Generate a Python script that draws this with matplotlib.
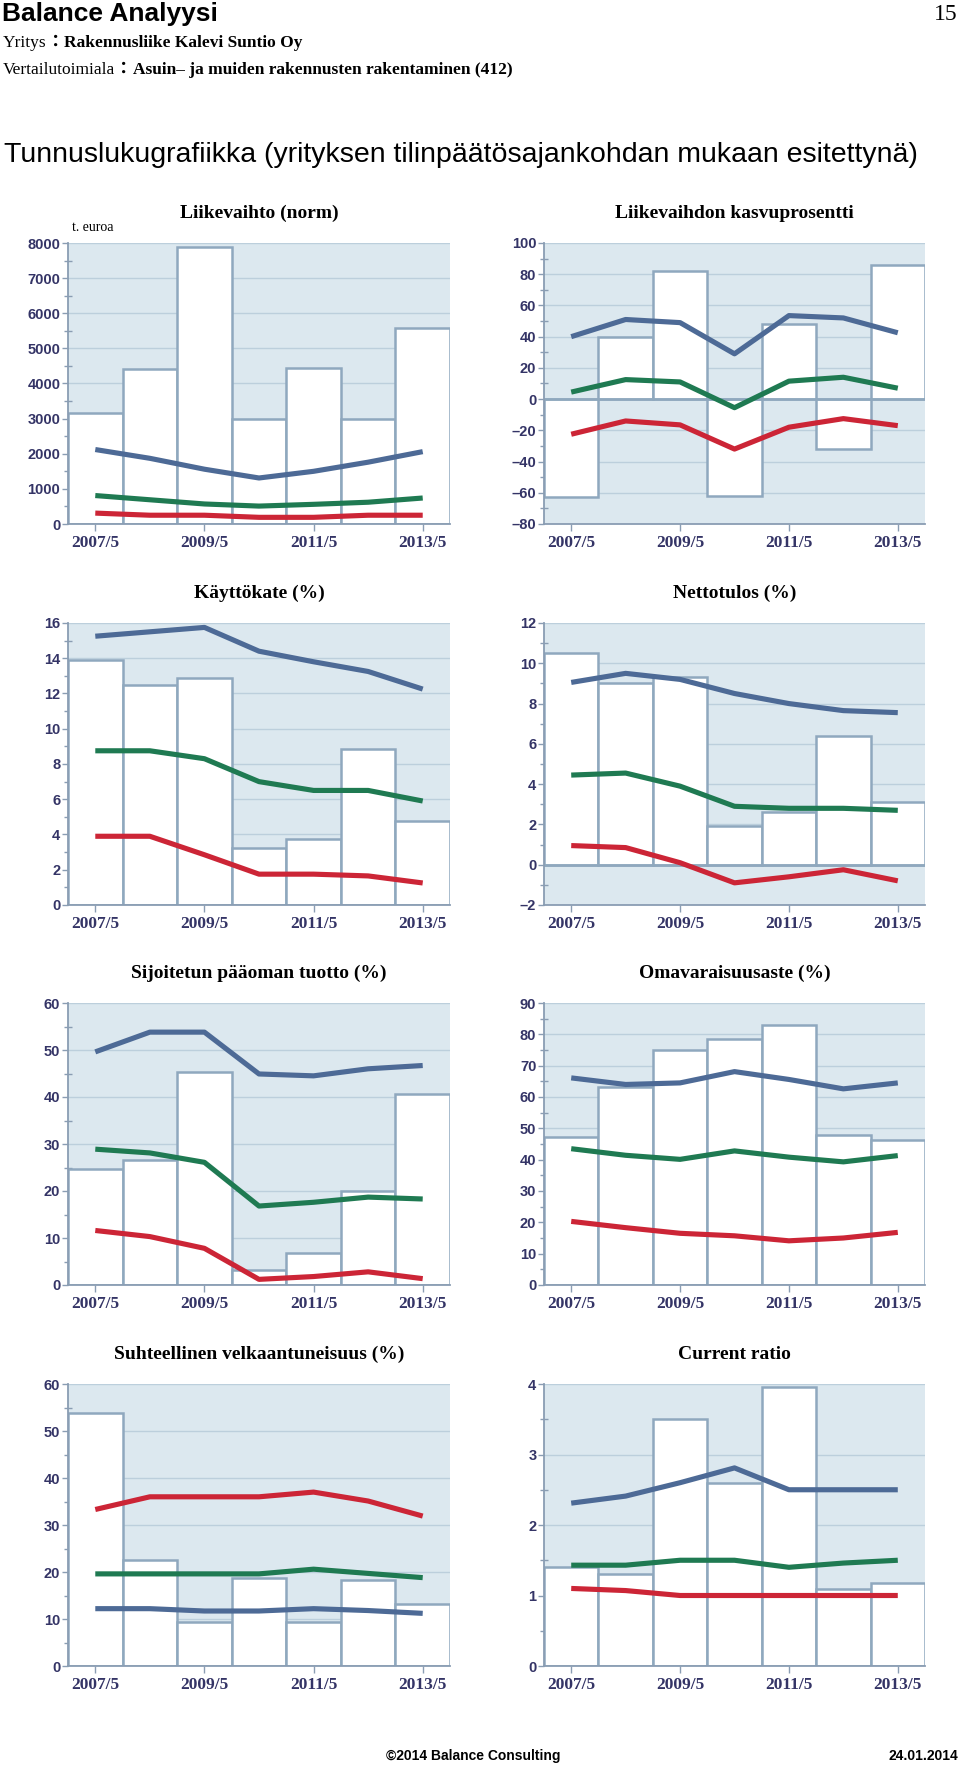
import numpy as np
import matplotlib.pyplot as plt
from matplotlib.ticker import MultipleLocator, FuncFormatter

# Kuvan koko pikseleinä
W, H = 960, 1767

# Tilikaudet
PERIODS = ['2007/5', '2008/5', '2009/5', '2010/5', '2011/5', '2012/5', '2013/5']
TICK_POS = [0, 2, 4, 6]
TICK_LABELS = ['2007/5', '2009/5', '2011/5', '2013/5']

# Liikevaihto (norm), t. euroa
LV_BARS = [3150, 4400, 7880, 3000, 4450, 3000, 5570]
LV_BLUE = [2120, 1870, 1560, 1310, 1500, 1760, 2060]
LV_GREEN = [810, 690, 570, 510, 560, 620, 740]
LV_RED = [310, 250, 250, 190, 190, 250, 250]

# Liikevaihdon kasvuprosentti
KP_BARS = [-63, 40, 82, -62, 48, -32, 86]
KP_BLUE = [40, 51, 49, 29, 53.5, 52, 42.5]
KP_GREEN = [4.5, 12.5, 11, -5.5, 11.5, 14, 7]
KP_RED = [-22.5, -14, -16.5, -32, -18, -12.5, -17]

# Käyttökate (%)
KK_BARS = [13.9, 12.5, 12.9, 3.25, 3.75, 8.85, 4.75]
KK_BLUE = [15.25, 15.5, 15.75, 14.4, 13.8, 13.25, 12.25]
KK_GREEN = [8.75, 8.75, 8.3, 7.0, 6.5, 6.5, 5.9]
KK_RED = [3.9, 3.9, 2.85, 1.75, 1.75, 1.65, 1.25]

# Nettotulos (%)
NT_BARS = [10.5, 9.0, 9.3, 1.9, 2.6, 6.4, 3.1]
NT_BLUE = [9.05, 9.5, 9.2, 8.5, 8.0, 7.65, 7.55]
NT_GREEN = [4.45, 4.55, 3.9, 2.9, 2.8, 2.8, 2.7]
NT_RED = [0.95, 0.85, 0.1, -0.9, -0.6, -0.25, -0.8]

# Sijoitetun pääoman tuotto (%)
SP_BARS = [24.7, 26.6, 45.3, 3.2, 6.9, 20.1, 40.6]
SP_BLUE = [49.6, 53.8, 53.8, 44.9, 44.5, 46.0, 46.7]
SP_GREEN = [28.9, 28.1, 26.1, 16.8, 17.6, 18.7, 18.3]
SP_RED = [11.6, 10.3, 7.8, 1.2, 1.8, 2.8, 1.35]

# Omavaraisuusaste (%)
OA_BARS = [47.1, 63.2, 75.1, 78.5, 82.9, 47.8, 46.3]
OA_BLUE = [66.1, 64.0, 64.5, 68.1, 65.6, 62.6, 64.5]
OA_GREEN = [43.5, 41.4, 40.1, 42.8, 40.8, 39.3, 41.3]
OA_RED = [20.3, 18.3, 16.5, 15.7, 14.1, 15.0, 16.8]

# Suhteellinen velkaantuneisuus (%)
SV_BARS = [53.9, 22.6, 9.3, 18.8, 9.3, 18.3, 13.1]
SV_BLUE = [12.2, 12.2, 11.7, 11.7, 12.2, 11.8, 11.2]
SV_GREEN = [19.6, 19.6, 19.6, 19.6, 20.6, 19.7, 18.8]
SV_RED = [33.3, 36.0, 36.0, 36.0, 37.0, 35.1, 31.9]

# Current ratio
CR_BARS = [1.40, 1.31, 3.50, 2.59, 3.96, 1.09, 1.18]
CR_BLUE = [2.31, 2.41, 2.6, 2.81, 2.5, 2.5, 2.5]
CR_GREEN = [1.43, 1.43, 1.5, 1.5, 1.4, 1.46, 1.5]
CR_RED = [1.1, 1.07, 1.0, 1.0, 1.0, 1.0, 1.0]

# Värit
BG = '#dce8ef'
GRID = '#bccfdc'
EDGE = '#8fa8be'
AXIS = '#8a9db3'
LABEL = '#343466'
BLUE = '#4d6a96'
GREEN = '#1f7a52'
RED = '#cc2536'

SERIF = ['Liberation Serif', 'DejaVu Serif']
SERIF_CJK = ['Liberation Serif', 'Noto Sans CJK JP']
SANS = ['Liberation Sans Narrow', 'Liberation Sans']
SANS_WIDE = ['Liberation Sans', 'DejaVu Sans']

# Kuvaajien sijainnit (pikseleinä: vasen, oikea / ylä, ala)
COLS = [(68, 450), (544, 925)]
ROWS = [(243, 524), (623, 905), (1003, 1285), (1384, 1666)]


def axes_rect(col, row):
    left, right = COLS[col]
    top, bottom = ROWS[row]
    return [left / W, 1 - bottom / H, (right - left) / W, (bottom - top) / H]


def draw_panel(ax, title, bars, blue, green, red, ylim, step):
    x = np.arange(len(PERIODS))
    ax.set_facecolor(BG)
    ax.set_xlim(-0.5, len(PERIODS) - 0.5)
    ax.set_ylim(*ylim)
    ax.yaxis.set_major_locator(MultipleLocator(step))
    ax.yaxis.set_minor_locator(MultipleLocator(step / 2))
    ax.yaxis.set_major_formatter(FuncFormatter(lambda v, p: f'{v:g}'.replace('-', '–')))
    ax.grid(axis='y', which='major', color=GRID, lw=1)
    ax.set_axisbelow(True)

    ax.bar(x, bars, width=1.0, color='white', edgecolor=EDGE, linewidth=1.8, zorder=2)
    if ylim[0] < 0:
        ax.axhline(0, color=EDGE, lw=1.8, zorder=2.5)

    for vals, c in ((blue, BLUE), (green, GREEN), (red, RED)):
        ax.plot(x, vals, color=c, lw=3.7, solid_capstyle='butt', zorder=3)

    ax.set_xticks(TICK_POS)
    ax.set_xticklabels(TICK_LABELS, fontfamily=SERIF, fontweight='bold', fontsize=12.5, color=LABEL)
    for lab in ax.get_yticklabels():
        lab.set_fontfamily(SANS_WIDE)
        lab.set_fontweight('bold')
        lab.set_fontsize(10.5)
        lab.set_color(LABEL)

    ax.tick_params(axis='x', which='major', direction='out', length=5, width=1, color=AXIS, pad=3)
    ax.tick_params(axis='y', which='major', direction='out', length=4, width=1, color=AXIS, pad=1.5)
    ax.tick_params(axis='y', which='minor', direction='inout', length=6, width=1, color=AXIS)
    for side in ('top', 'right'):
        ax.spines[side].set_visible(False)
    for side in ('left', 'bottom'):
        ax.spines[side].set_color(AXIS)
        ax.spines[side].set_linewidth(1.3)

    ax.set_title(title, fontfamily=SERIF, fontweight='bold', fontsize=14, pad=18)


fig = plt.figure(figsize=(W / 100, H / 100), dpi=100)
bg = fig.add_axes([0, 0, 1, 1])
bg.set_axis_off()


def px(x, y):
    return x / W, 1 - y / H


# Otsikkotekstit
bg.text(*px(2, 14), 'Balance Analyysi', fontfamily=SANS, fontweight='bold', fontsize=19,
        va='center', ha='left')
bg.text(*px(958, 14), '15', fontfamily=SERIF, fontsize=17, va='center', ha='right')

t1 = bg.text(*px(3, 43), 'Yritys', fontfamily=SERIF, fontsize=12.5, va='center', ha='left')
t2 = bg.annotate('：', xy=(1, 0), xycoords=t1, va='bottom', ha='left',
                 fontfamily=SERIF_CJK, fontsize=12.5, fontweight='bold')
bg.annotate('Rakennusliike Kalevi Suntio Oy', xy=(1, 0), xycoords=t2, va='bottom', ha='left',
            fontfamily=SERIF, fontsize=12.5, fontweight='bold')

t3 = bg.text(*px(3, 70), 'Vertailutoimiala', fontfamily=SERIF, fontsize=12.5, va='center', ha='left')
t4 = bg.annotate('：', xy=(1, 0), xycoords=t3, va='bottom', ha='left',
                 fontfamily=SERIF_CJK, fontsize=12.5, fontweight='bold')
bg.annotate('Asuin– ja muiden rakennusten rakentaminen (412)', xy=(1, 0), xycoords=t4,
            va='bottom', ha='left', fontfamily=SERIF, fontsize=12.5, fontweight='bold')

bg.text(*px(4, 155), 'Tunnuslukugrafiikka (yrityksen tilinpäätösajankohdan mukaan esitettynä)',
        fontfamily=SANS, fontsize=20.5, va='center', ha='left')

# Alatunniste
bg.text(*px(473, 1756), '©2014 Balance Consulting', fontfamily=SANS, fontweight='bold',
        fontsize=10, va='center', ha='center')
bg.text(*px(958, 1756), '24.01.2014', fontfamily=SANS, fontweight='bold',
        fontsize=10, va='center', ha='right')

# Kuvaajat
panels = [
    (0, 0, 'Liikevaihto (norm)', LV_BARS, LV_BLUE, LV_GREEN, LV_RED, (0, 8000), 1000),
    (1, 0, 'Liikevaihdon kasvuprosentti', KP_BARS, KP_BLUE, KP_GREEN, KP_RED, (-80, 100), 20),
    (0, 1, 'Käyttökate (%)', KK_BARS, KK_BLUE, KK_GREEN, KK_RED, (0, 16), 2),
    (1, 1, 'Nettotulos (%)', NT_BARS, NT_BLUE, NT_GREEN, NT_RED, (-2, 12), 2),
    (0, 2, 'Sijoitetun pääoman tuotto (%)', SP_BARS, SP_BLUE, SP_GREEN, SP_RED, (0, 60), 10),
    (1, 2, 'Omavaraisuusaste (%)', OA_BARS, OA_BLUE, OA_GREEN, OA_RED, (0, 90), 10),
    (0, 3, 'Suhteellinen velkaantuneisuus (%)', SV_BARS, SV_BLUE, SV_GREEN, SV_RED, (0, 60), 10),
    (1, 3, 'Current ratio', CR_BARS, CR_BLUE, CR_GREEN, CR_RED, (0, 4), 1),
]

for col, row, title, bars, blue, green, red, ylim, step in panels:
    ax = fig.add_axes(axes_rect(col, row))
    draw_panel(ax, title, bars, blue, green, red, ylim, step)
    if row == 0 and col == 0:
        ax.text(0.01, 1.055, 't. euroa', transform=ax.transAxes, fontfamily=SERIF,
                fontsize=10, va='center', ha='left')

fig.savefig('out.png', dpi=100)
